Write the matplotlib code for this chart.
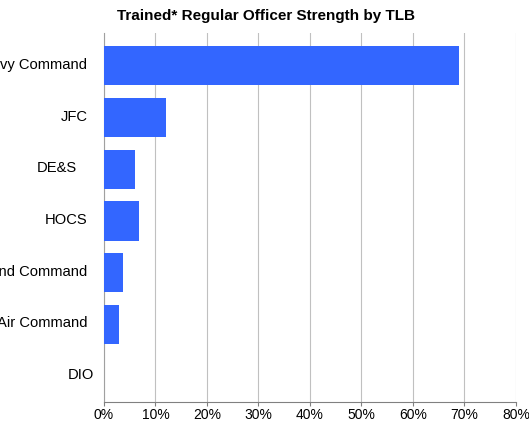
import matplotlib.pyplot as plt
import matplotlib.transforms as mtransforms
from matplotlib.ticker import FuncFormatter

tlb_names = ['Navy Command', 'JFC', 'DE&S', 'HOCS', 'Land Command', 'Air Command', 'DIO']
strength_pct = [68.9, 12.0, 6.0, 6.8, 3.7, 2.9, 0.0]

plt.rcParams['font.family'] = ['Liberation Sans', 'DejaVu Sans']

fig = plt.figure(figsize=(5.29, 4.28), dpi=100)
ax = fig.add_axes([0.1966, 0.0607, 0.7788, 0.8622])

ax.barh(range(len(tlb_names)), strength_pct, height=0.755, color='#3366FF', zorder=3)
ax.set_yticks(range(len(tlb_names)))
ax.set_yticklabels(tlb_names, fontsize=10.6)
# gridlines run a little above the top category slot, like the original
ax.set_ylim(len(tlb_names) - 0.5, -0.635)

ax.set_xlim(0, 80)
ax.set_xticks(range(0, 81, 10))
ax.xaxis.set_major_formatter(FuncFormatter(lambda v, p: '{0:.0f}%'.format(v)))
ax.tick_params(axis='x', labelsize=10, color='#808080', length=3, width=0.8, pad=1)
ax.tick_params(axis='y', length=0, pad=12)
ax.grid(axis='x', color='#c0c0c0', linewidth=0.8, zorder=0)

# small nudges of some labels, as in the original
nudge = {'DE&S': -10, 'DIO': 7}
for lab in ax.get_yticklabels():
    dx = nudge.get(lab.get_text(), 0)
    lab.set_transform(lab.get_transform() + mtransforms.ScaledTranslation(dx / 100, 0.025, fig.dpi_scale_trans))

for side in ['top', 'right']:
    ax.spines[side].set_visible(False)
ax.spines['left'].set_color('#a0a0a0')
ax.spines['bottom'].set_color('#808080')

fig.text(0.503, 0.962, 'Trained* Regular Officer Strength by TLB', fontsize=11, fontweight='bold',
         ha='center', va='center')

fig.savefig('out.png', dpi=100)
